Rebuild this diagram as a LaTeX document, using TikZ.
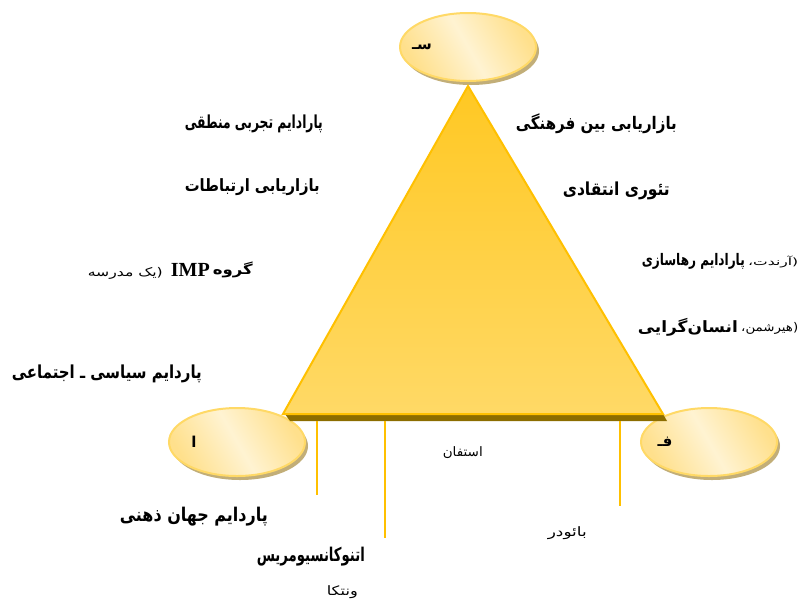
\documentclass[tikz,border=0pt]{standalone}
\usepackage{fontspec}
\usepackage{graphicx}
\TeXXeTstate=1
\newfontfamily\fa[Script=Arabic]{DejaVu Sans}
\newfontfamily\impfont{Liberation Serif}
\usetikzlibrary{shapes.geometric,shadows}
\definecolor{triborder}{HTML}{FFC000}
\definecolor{trimid}{HTML}{FFC000}
\definecolor{tritop}{HTML}{FFC823}
\definecolor{tribot}{HTML}{FFD966}
\definecolor{tribase}{HTML}{8C6D00}
\definecolor{ovalborder}{HTML}{FFD966}
\definecolor{ovallight}{HTML}{FFF3D2}
\definecolor{ovaldark}{HTML}{FFE08C}
\definecolor{ovalshadow}{HTML}{C2AE78}
\newcommand{\fitt}[3]{\resizebox*{#1pt}{#2pt}{#3}}
\tikzset{
  ovalbox/.style={ellipse, draw=ovalborder, line width=2pt, minimum width=136pt, minimum height=68pt,
    top color=ovaldark, bottom color=ovaldark, middle color=ovallight, shading angle=-60,
    drop shadow={shadow xshift=3pt, shadow yshift=-4pt, fill=ovalshadow, opacity=1}},
  ovalletter/.style={font=\fa\bfseries\fontsize{15}{17}\selectfont, inner sep=0pt},
  bigtext/.style={font=\fa\bfseries\fontsize{14}{16}\selectfont, inner sep=0pt, anchor=east},
  smalltext/.style={font=\fa\fontsize{11}{13}\selectfont, inner sep=0pt, anchor=east},
  smallleft/.style={font=\fa\fontsize{11}{13}\selectfont, inner sep=0pt, anchor=west},
  latintext/.style={font=\impfont\bfseries\fontsize{20}{22}\selectfont, inner sep=0pt, anchor=east},
  stem/.style={draw=triborder, line width=2pt},
}
\begin{document}
\begin{tikzpicture}[x=1pt,y=-1pt]
\useasboundingbox (0,0) rectangle (800,598);
% ellipses
\node[ovalbox] (topoval) at (468,47) {};
\node[ovalbox] (leftoval) at (237,442) {};
\node[ovalbox] (rightoval) at (709,442) {};
% triangle
\coordinate (apex) at (468,86);
\coordinate (bl) at (283,414);
\coordinate (br) at (663,414);
\fill[tribase] (285,414) -- (663,414) -- (667,421) -- (290,421) -- cycle;
\shade[top color=tritop, middle color=trimid, bottom color=tribot] (apex) -- (br) -- (bl) -- cycle;
\draw[triborder, line width=2pt, line join=miter] (apex) -- (br) -- (bl) -- cycle;
% ellipse letters
\node[ovalletter] (topl) at (422,47) {\beginR سـ\endR};
\node[ovalletter] (leftl) at (194,442) {\beginR ا\endR};
\node[ovalletter] (rightl) at (665,442) {\beginR فـ\endR};
% stems
\coordinate (s1t) at (317,421); \coordinate (s1b) at (317,495);
\coordinate (s2t) at (385,421); \coordinate (s2b) at (385,538);
\coordinate (s3t) at (620,421); \coordinate (s3b) at (620,506);
\draw[stem] (s1t) -- (s1b);
\draw[stem] (s2t) -- (s2b);
\draw[stem] (s3t) -- (s3b);
% texts right
\node[bigtext] (r1) at (677,124) {\fitt{161}{20}{\beginR بازاریابی بین فرهنگی\endR}};
\node[bigtext] (r2) at (670,191) {\fitt{107}{18}{\beginR تئوری انتقادی\endR}};
\node[bigtext] (r3) at (745,261) {\fitt{103}{16}{\beginR پارادایم رهاسازی\endR}};
\node[smallleft] (r3b) at (748,262) {\fitt{50}{12}{\beginR (آرندت،\endR}};
\node[bigtext] (r4) at (738,327) {\fitt{100}{18}{\beginR انسان‌گرایی\endR}};
\node[smallleft] (r4b) at (741,328) {\fitt{57}{12}{\beginR (هیرشمن،\endR}};
% texts left
\node[bigtext] (l1) at (323,124) {\fitt{138}{18}{\beginR پارادایم تجربی منطقی\endR}};
\node[bigtext] (l2) at (320,187) {\fitt{135}{17}{\beginR بازاریابی ارتباطات\endR}};
\node[bigtext] (l3) at (253,270) {\fitt{40}{16}{\beginR گروه\endR}};
\node[latintext] (l3i) at (210,270) {IMP};
\node[smalltext] (l3b) at (163,273) {\fitt{75}{12}{\beginR (یک مدرسه\endR}};
\node[bigtext] (l4) at (202,374) {\fitt{190}{18}{\beginR پاردایم سیاسی ـ اجتماعی\endR}};
% texts bottom
\node[bigtext] (b1) at (268,517) {\fitt{148}{19}{\beginR پاردایم جهان ذهنی\endR}};
\node[bigtext] (b2) at (365,557) {\fitt{108}{19}{\beginR اتنوکانسیومریس\endR}};
\node[smalltext] (b3) at (358,592) {\fitt{31}{13}{\beginR ونتکا\endR}};
\node[smalltext] (b4) at (483,453) {\fitt{40}{12}{\beginR استفان\endR}};
\node[smalltext] (b5) at (587,533) {\fitt{39}{13}{\beginR بائودر\endR}};
\end{tikzpicture}
\end{document}
